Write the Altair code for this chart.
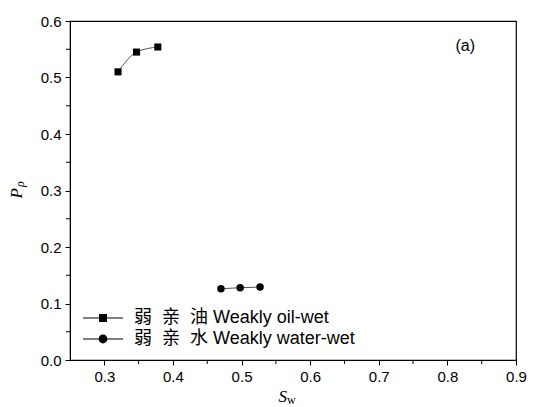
import altair as alt
import pandas as pd

NB = "\u00a0\u00a0"
series_names = ["弱" + NB + "亲" + NB + "油 Weakly oil-wet", "弱" + NB + "亲" + NB + "水 Weakly water-wet"]
oil_sw = [0.320, 0.347, 0.378]
oil_p = [0.510, 0.545, 0.554]
water_sw = [0.470, 0.498, 0.527]
water_p = [0.126, 0.128, 0.129]

x_major = [0.3, 0.4, 0.5, 0.6, 0.7, 0.8, 0.9]
x_minor = [0.35, 0.45, 0.55, 0.65, 0.75, 0.85]
y_major = [0.0, 0.1, 0.2, 0.3, 0.4, 0.5, 0.6]
y_minor = [0.05, 0.15, 0.25, 0.35, 0.45, 0.55]

df = pd.DataFrame({
    "sw": oil_sw + water_sw,
    "p": oil_p + water_p,
    "series": [series_names[0]] * 3 + [series_names[1]] * 3,
})
ann = pd.DataFrame({"sw": [0.826], "p": [0.556], "t": ["(a)"]})
one = pd.DataFrame({"k": [0]})
xm = pd.DataFrame({"v": x_minor})
ym = pd.DataFrame({"v": y_minor})

font = "Liberation Sans"
serif = "Liberation Serif"
W, H = 446, 339

x = alt.X("sw:Q", scale=alt.Scale(domain=[0.25, 0.9], nice=False, zero=False),
          axis=alt.Axis(values=x_major, format=".1f", title=None, ticks=True, tickSize=5,
                        labelOverlap=False, labelFlush=False))
y = alt.Y("p:Q", scale=alt.Scale(domain=[0, 0.6], nice=False),
          axis=alt.Axis(values=y_major, format=".1f", title=None, ticks=True, tickSize=5,
                        labelOverlap=False, labelFlush=False))

line = alt.Chart(df).mark_line(color="#555555", strokeWidth=1, interpolate="monotone").encode(
    x=x, y=y, detail="series:N")

pts_sq = alt.Chart(df).transform_filter(alt.datum.series == series_names[0]).mark_square(
    color="black", opacity=1, size=50).encode(x="sw:Q", y="p:Q")
pts_ci = alt.Chart(df).transform_filter(alt.datum.series == series_names[1]).mark_circle(
    color="black", opacity=1, size=56).encode(x="sw:Q", y="p:Q")

xminor = alt.Chart(xm).mark_rule(color="black", strokeWidth=1).encode(
    x="v:Q", y=alt.value(H), y2=alt.value(H + 4))
yminor = alt.Chart(ym).mark_rule(color="black", strokeWidth=1).encode(
    y="v:Q", x=alt.value(0), x2=alt.value(-4))

# legend glyphs: thin filled bars either side of the marker
bars = "M-5,-0.13H-1V0.13H-5ZM1,-0.13H5V0.13H1Z"
sq_path = bars + "M-1,-1H1V1H-1Z"
ci_path = bars + "M1.1,0A1.1,1.1,0,1,1,-1.1,0A1.1,1.1,0,1,1,1.1,0Z"

leg = alt.Chart(df).mark_point(filled=True, opacity=0, color="black").encode(
    x="sw:Q", y="p:Q",
    shape=alt.Shape("series:N", scale=alt.Scale(domain=series_names, range=[sq_path, ci_path]),
                    legend=alt.Legend(title=None, orient="none", legendX=24, legendY=288,
                                      symbolSize=64, symbolOpacity=1, symbolFillColor="black",
                                      symbolStrokeWidth=0,
                                      labelFont=font + ", Noto Sans CJK SC", labelFontSize=18,
                                      labelColor="black", labelOffset=22, rowPadding=3,
                                      labelLimit=400)))

txt = alt.Chart(ann).mark_text(font=font, fontSize=16, color="black").encode(
    x="sw:Q", y="p:Q", text="t:N")

xt_s = alt.Chart(one).mark_text(font=serif, fontStyle="italic", fontSize=17, color="black",
                                align="right", baseline="alphabetic").encode(
    x=alt.value(217), y=alt.value(381), text=alt.value("S"))
xt_w = alt.Chart(one).mark_text(font=serif, fontSize=12, color="black",
                                align="left", baseline="alphabetic").encode(
    x=alt.value(217), y=alt.value(383), text=alt.value("w"))
yt_p = alt.Chart(one).mark_text(font=serif, fontStyle="italic", fontSize=17, color="black",
                                align="right", baseline="alphabetic", angle=270).encode(
    x=alt.value(-48), y=alt.value(167), text=alt.value("P"))
yt_r = alt.Chart(one).mark_text(font=serif, fontStyle="italic", fontSize=12, color="black",
                                align="left", baseline="alphabetic", angle=270).encode(
    x=alt.value(-46), y=alt.value(166), text=alt.value("ρ"))

chart = alt.layer(line, pts_sq, pts_ci, xminor, yminor, leg, txt, xt_s, xt_w, yt_p, yt_r).properties(
    width=W, height=H,
    autosize=alt.AutoSizeParams(type="none"),
    padding={"left": 62, "top": 13, "right": 11, "bottom": 46},
).configure_axis(
    labelFont=font, labelFontSize=15, labelColor="black", titleColor="black",
    domainColor="black", tickColor="black", grid=False, labelPadding=4,
).configure_view(stroke="black", strokeWidth=1.2)

chart.save("out.html", embed_options={"renderer": "svg", "actions": False})
